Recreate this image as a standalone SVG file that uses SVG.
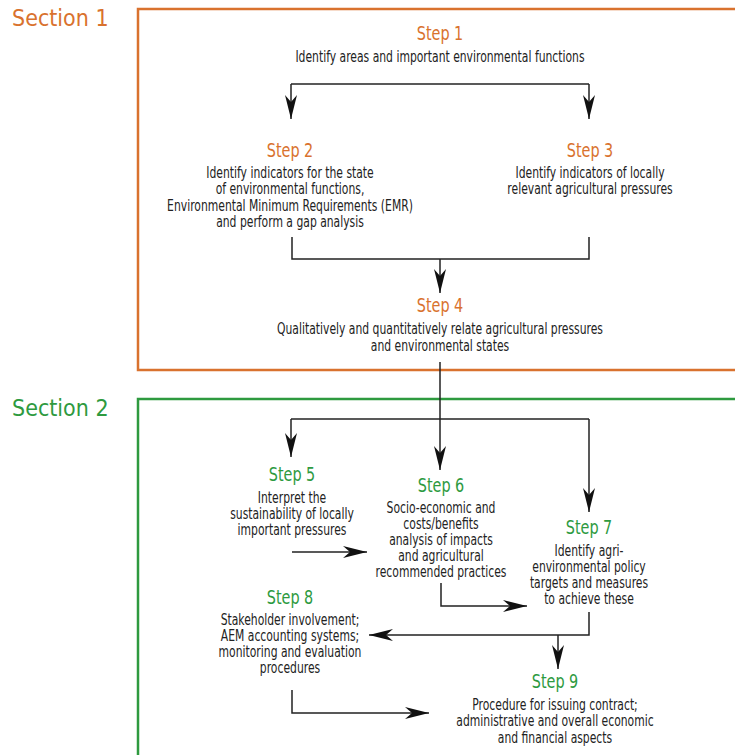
<svg xmlns="http://www.w3.org/2000/svg" width="735" height="755" viewBox="0 0 735 755">
<defs>
<style>
.sec{font-family:"DejaVu Sans Condensed","Liberation Sans",sans-serif;font-size:23px;}
.t1{fill:#D9722E}
.t2{fill:#2E9A3F}
.st{font-family:"DejaVu Sans Condensed","Liberation Sans",sans-serif;font-size:20px;text-anchor:middle;}
.tx{font-family:"DejaVu Sans Condensed","Liberation Sans",sans-serif;font-size:15px;text-anchor:middle;fill:#222;}
.ln{fill:none;stroke:#222;stroke-width:1.5;}
.ar{fill:none;stroke:#222;stroke-width:1.5;marker-end:url(#ah);}
</style>
<marker id="ah" viewBox="0 -6 24 12" refX="24" refY="0" markerWidth="24" markerHeight="12" markerUnits="userSpaceOnUse" orient="auto">
<path d="M0,-6 L24,0 L0,6 L7,0 z" fill="#111"/>
</marker>
</defs>
<rect width="735" height="755" fill="#fff"/>
<g id="section1">
<rect x="138" y="9" width="610" height="361" fill="none" stroke="#D9722E" stroke-width="2.5"/>
<text class="sec t1" x="12" y="26">Section 1</text>
</g>
<g id="section2">
<rect x="138" y="399" width="610" height="370" fill="none" stroke="#2E9A3F" stroke-width="2.5"/>
<text class="sec t2" x="12" y="416">Section 2</text>
</g>
<g id="connectors">
<path class="ln" d="M291,84 H589"/>
<path class="ar" d="M291,84 V119"/>
<path class="ar" d="M589,84 V119"/>
<path class="ln" d="M292,237 V259 H589 V237"/>
<path class="ar" d="M440,259 V293"/>
<path class="ln" d="M440,362 V419"/>
<path class="ln" d="M291,419 H589"/>
<path class="ar" d="M291,419 V457"/>
<path class="ar" d="M440,419 V470"/>
<path class="ar" d="M589,419 V512"/>
<path class="ar" d="M292,552 H367"/>
<path class="ar" d="M441,583 V606 H527"/>
<path class="ar" d="M589,612 V635 H369"/>
<path class="ar" d="M558,635 V669"/>
<path class="ar" d="M292,690 V713 H429"/>
</g>
<g id="step1" transform="translate(440,0) scale(0.8,1)">
<text class="st t1" x="0" y="40">Step 1</text>
<text class="tx" x="0" y="62">Identify areas and important environmental functions</text>
</g>
<g id="step2" transform="translate(290,0) scale(0.8,1)">
<text class="st t1" x="0" y="157">Step 2</text>
<text class="tx" x="0" y="178">Identify indicators for the state</text>
<text class="tx" x="0" y="194">of environmental functions,</text>
<text class="tx" x="0" y="211">Environmental Minimum Requirements (EMR)</text>
<text class="tx" x="0" y="227">and perform a gap analysis</text>
</g>
<g id="step3" transform="translate(590,0) scale(0.8,1)">
<text class="st t1" x="0" y="157">Step 3</text>
<text class="tx" x="0" y="178">Identify indicators of locally</text>
<text class="tx" x="0" y="194">relevant agricultural pressures</text>
</g>
<g id="step4" transform="translate(440,0) scale(0.8,1)">
<text class="st t1" x="0" y="312">Step 4</text>
<text class="tx" x="0" y="334">Qualitatively and quantitatively relate agricultural pressures</text>
<text class="tx" x="0" y="351">and environmental states</text>
</g>
<g id="step5" transform="translate(292,0) scale(0.8,1)">
<text class="st t2" x="0" y="481">Step 5</text>
<text class="tx" x="0" y="503">Interpret the</text>
<text class="tx" x="0" y="519">sustainability of locally</text>
<text class="tx" x="0" y="535">important pressures</text>
</g>
<g id="step6" transform="translate(441,0) scale(0.8,1)">
<text class="st t2" x="0" y="492">Step 6</text>
<text class="tx" x="0" y="513">Socio-economic and</text>
<text class="tx" x="0" y="529">costs/benefits</text>
<text class="tx" x="0" y="545">analysis of impacts</text>
<text class="tx" x="0" y="561">and agricultural</text>
<text class="tx" x="0" y="577">recommended practices</text>
</g>
<g id="step7" transform="translate(589,0) scale(0.8,1)">
<text class="st t2" x="0" y="534">Step 7</text>
<text class="tx" x="0" y="556">Identify agri-</text>
<text class="tx" x="0" y="572">environmental policy</text>
<text class="tx" x="0" y="588">targets and measures</text>
<text class="tx" x="0" y="604">to achieve these</text>
</g>
<g id="step8" transform="translate(290,0) scale(0.8,1)">
<text class="st t2" x="0" y="604">Step 8</text>
<text class="tx" x="0" y="625">Stakeholder involvement;</text>
<text class="tx" x="0" y="641">AEM accounting systems;</text>
<text class="tx" x="0" y="657">monitoring and evaluation</text>
<text class="tx" x="0" y="673">procedures</text>
</g>
<g id="step9" transform="translate(555,0) scale(0.8,1)">
<text class="st t2" x="0" y="688">Step 9</text>
<text class="tx" x="0" y="710">Procedure for issuing contract;</text>
<text class="tx" x="0" y="726">administrative and overall economic</text>
<text class="tx" x="0" y="743">and financial aspects</text>
</g>
</svg>
